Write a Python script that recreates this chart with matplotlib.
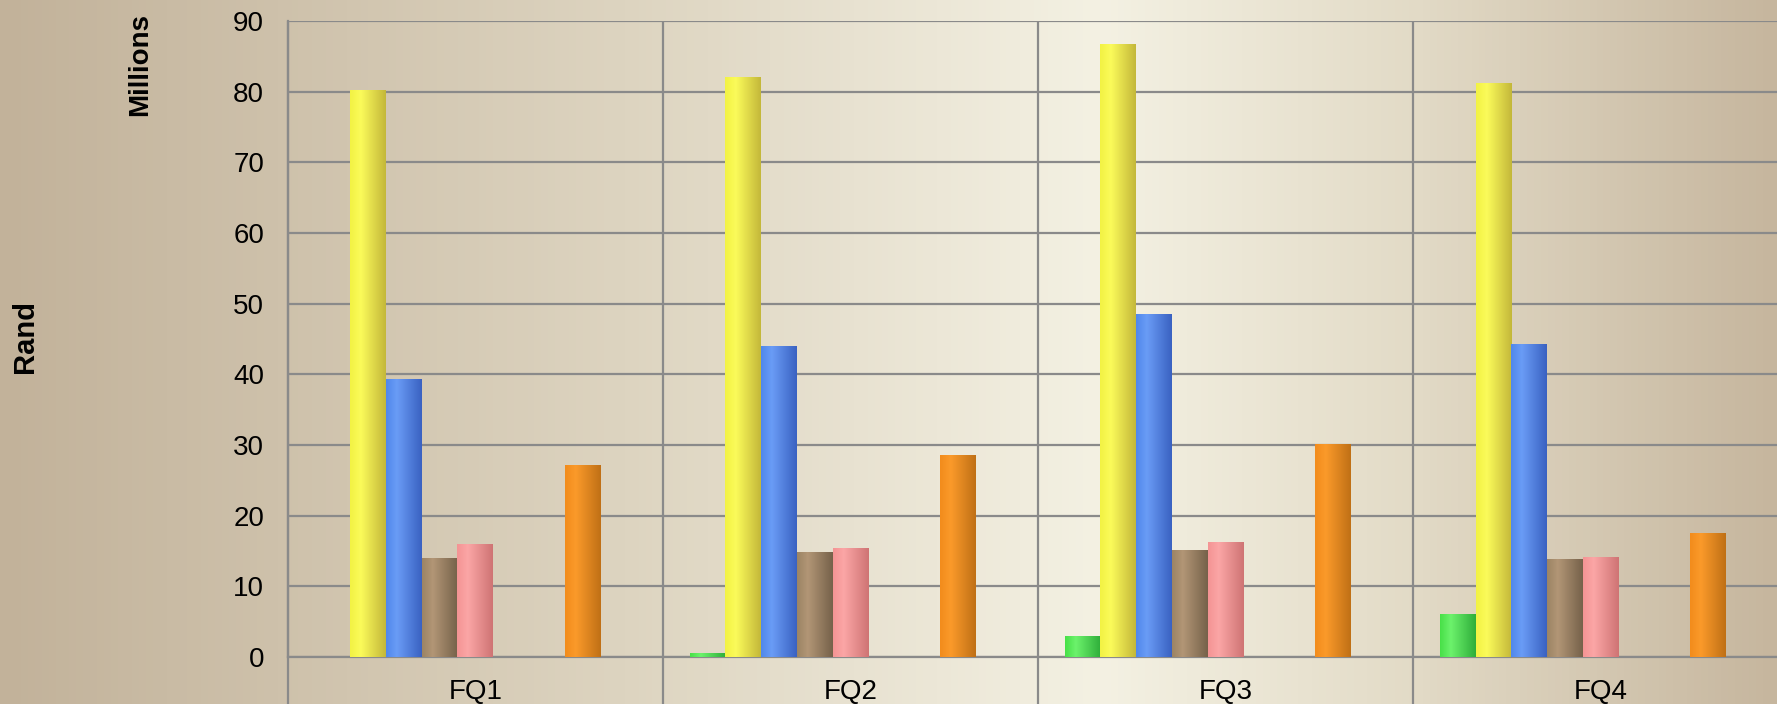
import matplotlib.pyplot as plt
from matplotlib.colors import LinearSegmentedColormap
import numpy as np

plt.rcParams['font.family'] = ['Liberation Sans', 'DejaVu Sans']

quarters = ['FQ1', 'FQ2', 'FQ3', 'FQ4']

# values in millions of rand (9 series, three of them empty)
green = [0.0, 0.6, 3.0, 6.1]
yellow = [80.3, 82.1, 86.8, 81.2]
blue = [39.3, 44.0, 48.5, 44.3]
brown = [14.0, 14.8, 15.1, 13.8]
pink = [16.0, 15.4, 16.2, 14.1]
empty_a = [0.0, 0.0, 0.0, 0.0]
empty_b = [0.0, 0.0, 0.0, 0.0]
orange = [27.1, 28.6, 30.2, 17.6]
empty_c = [0.0, 0.0, 0.0, 0.0]

series = [green, yellow, blue, brown, pink, empty_a, empty_b, orange, empty_c]
# (light, mid, dark) shades for the cylinder look
shades = [
    ('#6cf26c', '#48e048', '#2fae3a'),
    ('#fbfb5a', '#f2f244', '#c4b83a'),
    ('#6a9cf6', '#5088ec', '#3a62c2'),
    ('#b29676', '#9c8464', '#76624a'),
    ('#fba6a6', '#f49494', '#cf7474'),
    ('#cccccc', '#cccccc', '#cccccc'),
    ('#cccccc', '#cccccc', '#cccccc'),
    ('#fb9a2a', '#f28c1c', '#c07016'),
    ('#cccccc', '#cccccc', '#cccccc'),
]

fig = plt.figure(figsize=(17.77, 7.04), dpi=100)

# background gradient
bg = fig.add_axes([0, 0, 1, 1], zorder=-1)
bg_cmap = LinearSegmentedColormap.from_list(
    'bg', [(0.0, '#c2b29a'), (0.35, '#ddd4c0'), (0.62, '#f4f1e3'), (0.8, '#e2dac6'), (1.0, '#c6b69e')])
bg.imshow(np.linspace(0, 1, 512).reshape(1, -1), cmap=bg_cmap, aspect='auto', extent=[0, 1, 0, 1])
bg.axis('off')

ax = fig.add_axes([0.1619, 0.0668, 0.8444, 0.9034])
ax.set_facecolor('none')

n = len(series)
w = 1.0 / (n + 1.5)
x = np.arange(len(quarters)) + 0.5
grad = np.linspace(0, 1, 64).reshape(1, -1)

for i, (vals, (lt, md, dk)) in enumerate(zip(series, shades)):
    pos = x + (i - (n - 1) / 2) * w
    bars = ax.bar(pos, vals, width=w, color=md, linewidth=0, zorder=2)
    cmap = LinearSegmentedColormap.from_list('c%d' % i, [(0, md), (0.3, lt), (1, dk)])
    for b, v in zip(bars, vals):
        if v <= 0:
            continue
        im = ax.imshow(grad, cmap=cmap, aspect='auto', zorder=3,
                       extent=[b.get_x(), b.get_x() + w, 0, v])
        im.set_clip_path(b)

ax.set_xlim(0, 4)
ax.set_ylim(0, 90)
ax.set_yticks(range(0, 91, 10))
ax.set_xticks(x)
ax.set_xticklabels(quarters)
ax.tick_params(axis='y', length=0, pad=17, labelsize=20)
ax.tick_params(axis='x', length=0, pad=16, labelsize=20)

ax.grid(axis='y', color='#8a8a8a', linewidth=1.6, zorder=1)
ax.set_axisbelow(True)
for s in ['top', 'right']:
    ax.spines[s].set_visible(False)
for s in ['left', 'bottom']:
    ax.spines[s].set_color('#8a8a8a')
    ax.spines[s].set_linewidth(1.6)

# category separators running down through the label band
ax.vlines(range(5), -0.08, 1, transform=ax.get_xaxis_transform(),
          color='#8a8a8a', linewidth=1.6, clip_on=False, zorder=1)

fig.text(0.0788, 0.9077, 'Millions', rotation=90, fontsize=20, fontweight='bold',
         ha='center', va='center')
fig.text(0.0141, 0.5227, 'Rand', rotation=90, fontsize=21, fontweight='bold',
         ha='center', va='center')

fig.savefig('out.png', dpi=100)
